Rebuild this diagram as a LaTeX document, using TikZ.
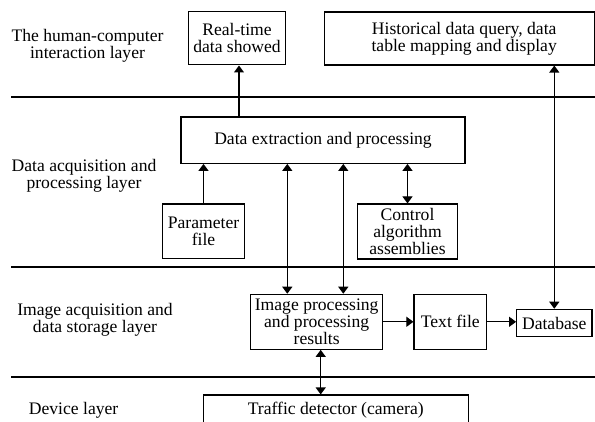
\documentclass[tikz,border=0pt]{standalone}
\usepackage{fontspec}
\setmainfont{Liberation Serif}
\usetikzlibrary{arrows.meta}
\begin{document}
\begin{tikzpicture}[x=1pt,y=-1pt,
  every node/.style={font=\fontsize{17.6}{17}\selectfont, inner sep=0pt, align=center},
  box/.style={draw, line width=1.1pt},
  layer/.style={},
  sepline/.style={line width=1.1pt},
  arr/.style={line width=1.1pt, -{Triangle[length=7pt,width=10pt]}},
  darr/.style={line width=1.1pt, {Triangle[length=7pt,width=10pt]}-{Triangle[length=7pt,width=10pt]}}
]
\useasboundingbox (0,0) rectangle (595,422);
\clip (0,0) rectangle (595,422);
\fill[white] (0,0) rectangle (595,422);

% layer separators
\draw[sepline] (11,97) -- (595,97);
\draw[sepline] (11,267) -- (595,267);
\draw[sepline] (11,377) -- (595,377);

% layer labels
\node[layer] (l1) at (87.5,46) {The human-computer\\interaction layer};
\node[layer] (l2) at (84,176) {Data acquisition and\\processing layer};
\node[layer] (l3) at (95,320) {Image acquisition and\\data storage layer};
\node[layer] (l4) at (73.6,410.5) {Device layer};

% boxes
\node[box, minimum width=97.4pt, minimum height=53.3pt] (rt) at (237,38.3) {Real-time\\data showed};
\node[box, minimum width=269.7pt, minimum height=53pt] (hist) at (459.2,38.5) {\hspace*{10pt}Historical data query, data\\\hspace*{10pt}table mapping and display};
\node[box, minimum width=284pt, minimum height=46.3pt] (dep) at (323,140.2) {Data extraction and processing};
\node[box, minimum width=81.6pt, minimum height=54.3pt] (pf) at (203.5,231.2) {Parameter\\file};
\node[box, minimum width=99.6pt, minimum height=55pt] (ctrl) at (407.5,231.5) {Control\\algorithm\\assemblies};
\node[box, minimum width=132pt, minimum height=55pt] (ip) at (316.7,321.8) {Image processing\\and processing\\results};
\node[box, minimum width=72.7pt, minimum height=55pt] (tf) at (450.3,321.8) {Text file};
\node[box, minimum width=75.3pt, minimum height=27.4pt] (db) at (554.3,323) {Database};
\node[box, minimum width=265pt, minimum height=30pt] (td) at (335.8,410) {Traffic detector (camera)};

% helper coordinates for arrow positions
\coordinate (xa) at (239,0);
\coordinate (xb) at (287.3,0);
\coordinate (xc) at (343.3,0);
\coordinate (xd) at (320.7,0);

% connectors
\draw[arr] (xa |- dep.north) -- (xa |- rt.south);
\draw[arr] (pf.north) -- (pf.north |- dep.south);
\draw[darr] (xb |- dep.south) -- (xb |- ip.north);
\draw[darr] (xc |- dep.south) -- (xc |- ip.north);
\draw[darr] (ctrl.north |- dep.south) -- (ctrl.north);
\draw[darr] (db.north |- hist.south) -- (db.north);
\draw[arr] (ip.east) -- (tf.west);
\draw[arr] (tf.east) -- (tf.east -| db.west);
\draw[darr] (xd |- ip.south) -- (xd |- td.north);
\end{tikzpicture}
\end{document}
